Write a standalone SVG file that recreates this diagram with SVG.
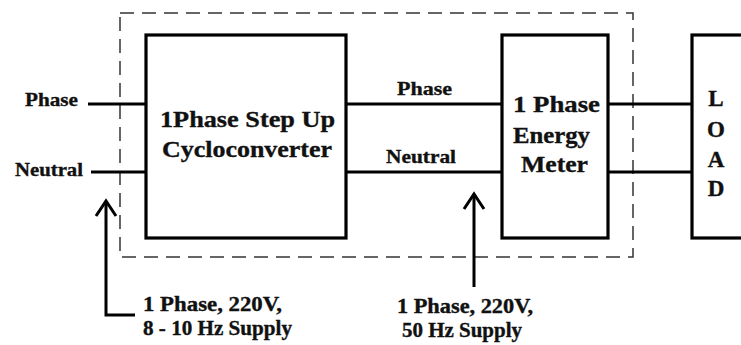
<svg xmlns="http://www.w3.org/2000/svg" width="741" height="345" viewBox="0 0 741 345" font-family="Liberation Serif, serif" font-weight="bold">
<style>
.box{fill:#fff;stroke:#000;stroke-width:3.2}
.wire{stroke:#000;stroke-width:3;fill:none}
.dash{fill:none;stroke:#333;stroke-width:1.5;stroke-dasharray:14 8}
text{fill:#111;stroke:#111;stroke-width:0.35}
</style>
<rect class="dash" x="120" y="13" width="513" height="244"/>
<g id="connectors">
<line class="wire" x1="88" y1="104" x2="146" y2="104"/>
<line class="wire" x1="91" y1="172" x2="146" y2="172"/>
<line class="wire" x1="346" y1="104" x2="502" y2="104"/>
<line class="wire" x1="346" y1="172" x2="502" y2="172"/>
<line class="wire" x1="608" y1="104" x2="692" y2="104"/>
<line class="wire" x1="608" y1="172" x2="692" y2="172"/>
<polyline class="wire" points="135,315 106,315 106,201"/>
<polyline class="wire" points="96,216 106,201 116,216"/>
<line class="wire" x1="474" y1="287" x2="474" y2="194"/>
<polyline class="wire" points="464,209 474,194 484,209"/>
</g>
<g id="labels">
<text x="25" y="106" font-size="19" textLength="53" lengthAdjust="spacingAndGlyphs">Phase</text>
<text x="15" y="176" font-size="19" textLength="68" lengthAdjust="spacingAndGlyphs">Neutral</text>
<text x="397" y="95" font-size="19" textLength="55" lengthAdjust="spacingAndGlyphs">Phase</text>
<text x="386" y="163" font-size="19" textLength="70" lengthAdjust="spacingAndGlyphs">Neutral</text>
<text x="143" y="311" font-size="20" textLength="139" lengthAdjust="spacingAndGlyphs">1 Phase, 220V,</text>
<text x="143" y="335" font-size="20" textLength="149" lengthAdjust="spacingAndGlyphs">8 - 10 Hz Supply</text>
<text x="397" y="313" font-size="20" textLength="136" lengthAdjust="spacingAndGlyphs">1 Phase, 220V,</text>
<text x="402" y="337" font-size="20" textLength="120" lengthAdjust="spacingAndGlyphs">50 Hz Supply</text>
</g>
<g id="cycloconverter">
<rect class="box" x="146" y="35" width="200" height="203"/>
<text x="160" y="127" font-size="24" textLength="175" lengthAdjust="spacingAndGlyphs">1Phase Step Up</text>
<text x="162" y="157" font-size="24" textLength="170" lengthAdjust="spacingAndGlyphs">Cycloconverter</text>
</g>
<g id="energy-meter">
<rect class="box" x="502" y="35" width="106" height="203"/>
<text x="513" y="112" font-size="23" textLength="87" lengthAdjust="spacingAndGlyphs">1 Phase</text>
<text x="513" y="143" font-size="23" textLength="77" lengthAdjust="spacingAndGlyphs">Energy</text>
<text x="521" y="172" font-size="23" textLength="67" lengthAdjust="spacingAndGlyphs">Meter</text>
</g>
<g id="load">
<rect class="box" x="692" y="35" width="60" height="203"/>
<text x="716" y="106" font-size="23" text-anchor="middle">L</text>
<text x="716" y="137" font-size="23" text-anchor="middle">O</text>
<text x="716" y="167" font-size="23" text-anchor="middle">A</text>
<text x="716" y="196" font-size="23" text-anchor="middle">D</text>
</g>
</svg>
